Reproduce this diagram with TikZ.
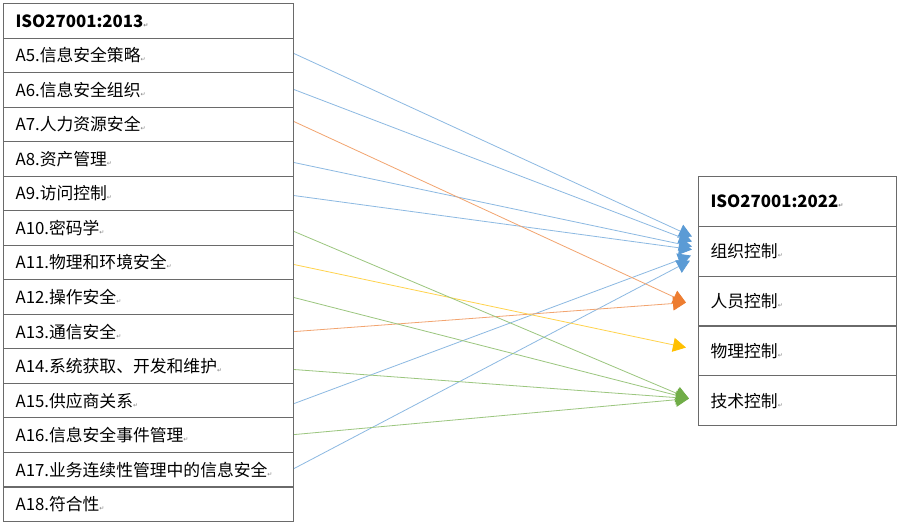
\documentclass[tikz,border=0pt]{standalone}
\usepackage{fontspec}
\setmainfont{Noto Sans CJK SC}
\newfontfamily\symf{DejaVu Sans}
\usetikzlibrary{arrows.meta}
\definecolor{bordc}{HTML}{6A6A6A}
\definecolor{cblue}{HTML}{5B9BD5}
\definecolor{corange}{HTML}{ED7D31}
\definecolor{cyellow}{HTML}{FFC000}
\definecolor{cgreen}{HTML}{70AD47}
\newcommand\parmark{{\color{gray}\symf\fontsize{6}{6}\selectfont ↵}}
\tikzset{
  lcell/.style={draw=bordc, line width=1.1pt, anchor=north west, minimum height=34.53pt,
    text width=266pt, inner xsep=12pt, inner ysep=0pt, align=left,
    font=\fontsize{16.8}{18}\selectfont},
  rcell/.style={draw=bordc, line width=1.1pt, anchor=north west, minimum height=49.8pt,
    text width=174pt, inner xsep=12pt, inner ysep=0pt, align=left,
    font=\fontsize{16.8}{18}\selectfont},
  conn/.style={line width=0.8pt, draw=#1!70!white, -{Triangle[length=13pt,width=14pt,color=#1]}},
}
\begin{document}
\begin{tikzpicture}[x=1pt,y=-1pt]
\useasboundingbox[fill=white] (0,0) rectangle (900,528);
\foreach \i/\t in {0/{\bfseries ISO27001:2013},1/A5.信息安全策略,2/A6.信息安全组织,3/A7.人力资源安全,
  4/A8.资产管理,5/A9.访问控制,6/A10.密码学,7/A11.物理和环境安全,8/A12.操作安全,9/A13.通信安全,
  10/A14.系统获取、开发和维护,11/A15.供应商关系,12/A16.信息安全事件管理,13/A17.业务连续性管理中的信息安全,14/A18.符合性}
  \node[lcell] (L\i) at (3,{3+34.53*\i}) {\t\parmark};
\foreach \i/\t in {0/{\bfseries ISO27001:2022},1/组织控制,2/人员控制,3/物理控制,4/技术控制}
  \node[rcell] (R\i) at (698,{176+49.8*\i}) {\t\parmark};
% blue -> 组织控制
\draw[conn=cblue] ([yshift=1.8pt]L1.east) -- ([xshift=-6pt,yshift=14.7pt]R1.west);
\draw[conn=cblue] ([yshift=0.3pt]L2.east) -- ([xshift=-6pt,yshift=9.7pt]R1.west);
\draw[conn=cblue] ([yshift=-3.6pt]L4.east) -- ([xshift=-6pt,yshift=4.7pt]R1.west);
\draw[conn=cblue] ([yshift=-2.1pt]L5.east) -- ([xshift=-6pt,yshift=1.7pt]R1.west);
\draw[conn=cblue] ([yshift=-2.9pt]L11.east) -- ([xshift=-7pt,yshift=-4.3pt]R1.west);
\draw[conn=cblue] ([yshift=1.2pt]L13.east) -- ([xshift=-8pt,yshift=-9.3pt]R1.west);
% orange -> 人员控制
\draw[conn=corange] ([yshift=2.8pt]L3.east) -- ([xshift=-12pt,yshift=-1.5pt]R2.west);
\draw[conn=corange] (L9.east) -- ([xshift=-12pt,yshift=-1.5pt]R2.west);
% yellow -> 物理控制
\draw[conn=cyellow] ([yshift=-2pt]L7.east) -- ([xshift=-12pt,yshift=3.3pt]R3.west);
% green -> 技术控制
\draw[conn=cgreen] ([yshift=-3.5pt]L6.east) -- ([xshift=-9pt,yshift=2.1pt]R4.west);
\draw[conn=cgreen] ([yshift=-0.5pt]L8.east) -- ([xshift=-9pt,yshift=2.1pt]R4.west);
\draw[conn=cgreen] ([yshift=-3.4pt]L10.east) -- ([xshift=-9pt,yshift=2.1pt]R4.west);
\draw[conn=cgreen] ([yshift=0.6pt]L12.east) -- ([xshift=-9pt,yshift=2.1pt]R4.west);
\end{tikzpicture}
\end{document}
